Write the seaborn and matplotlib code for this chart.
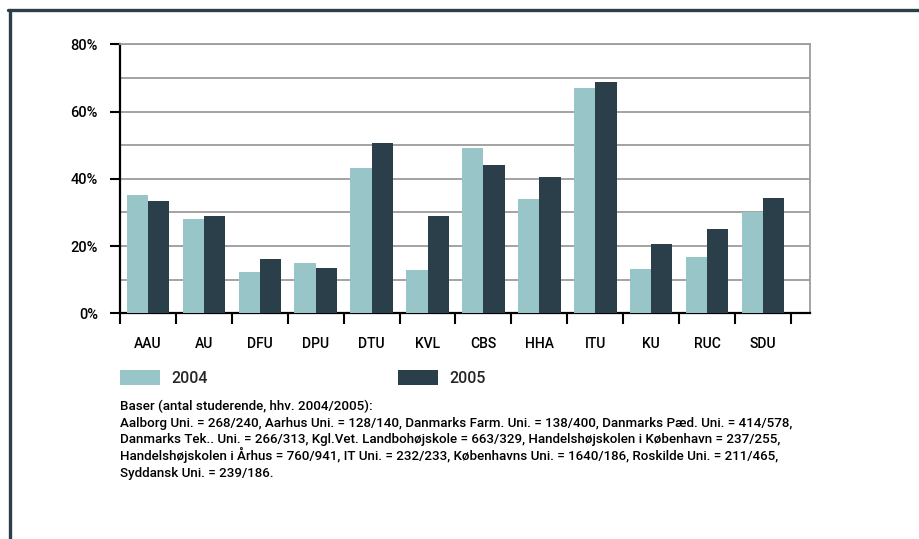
import pandas as pd
import matplotlib.pyplot as plt
import seaborn as sns
from matplotlib.lines import Line2D
from matplotlib.ticker import MultipleLocator, FixedLocator, FuncFormatter

# Data (share in %)
universities = ["AAU", "AU", "DFU", "DPU", "DTU", "KVL", "CBS", "HHA", "ITU", "KU", "RUC", "SDU"]
share_2004 = [35.2, 28.0, 12.3, 15.0, 43.2, 12.9, 49.2, 34.0, 67.0, 13.2, 16.8, 30.2]
share_2005 = [33.4, 28.9, 16.1, 13.5, 50.6, 28.9, 44.1, 40.5, 68.8, 20.6, 25.1, 34.3]
years = ["2004", "2005"]
colors = ["#97c5c8", "#2b3f4b"]

footnote_lines = [
    "Baser (antal studerende, hhv. 2004/2005):",
    "Aalborg Uni. = 268/240, Aarhus Uni. = 128/140, Danmarks Farm. Uni. = 138/400, Danmarks Pæd. Uni. = 414/578,",
    "Danmarks Tek.. Uni. = 266/313, Kgl.Vet. Landbohøjskole = 663/329, Handelshøjskolen i København = 237/255,",
    "Handelshøjskolen i Århus = 760/941, IT Uni. = 232/233, Københavns Uni. = 1640/186, Roskilde Uni. = 211/465,",
    "Syddansk Uni. = 239/186.",
]

df = pd.DataFrame({
    "uni": universities * 2,
    "year": [years[0]] * len(universities) + [years[1]] * len(universities),
    "share": share_2004 + share_2005,
})

sns.set_style("white")
plt.rcParams["font.family"] = ["Roboto", "DejaVu Sans"]
plt.rcParams["font.weight"] = "medium"

fig = plt.figure(figsize=(9.19, 5.39), dpi=100)
ax = fig.add_axes([120 / 919, 1 - 313.3 / 539, 690 / 919, 269 / 539])

sns.barplot(data=df, x="uni", y="share", hue="year", order=universities,
            hue_order=years, palette=colors, width=0.76, saturation=1,
            edgecolor="none", linewidth=0, ax=ax, zorder=3)

ax.set_ylim(0, 80)
ax.set_xlim(-0.5, 11.84)
ax.set_xlabel("")
ax.set_ylabel("")

# horizontal grid every 10 %
ax.yaxis.set_major_locator(MultipleLocator(20))
ax.yaxis.set_minor_locator(MultipleLocator(10))
ax.yaxis.set_major_formatter(FuncFormatter(lambda v, p: f"{v:.0f}%"))
ax.grid(axis="y", which="both", color="#9c9c9c", linewidth=1.3, zorder=0)
ax.set_axisbelow(True)

# x ticks at category boundaries, labels at centres
ax.xaxis.set_major_locator(FixedLocator([i - 0.5 for i in range(len(universities) + 1)]))
ax.xaxis.set_major_formatter(FuncFormatter(lambda v, p: ""))
ax.xaxis.set_minor_locator(FixedLocator(range(len(universities))))
ax.set_xticklabels(universities, minor=True)
ax.tick_params(axis="x", which="major", direction="out", length=8, width=1.5, color="black", bottom=True)
ax.tick_params(axis="x", which="minor", length=0, pad=17, labelsize=10, labelcolor="black")
ax.tick_params(axis="y", which="major", direction="out", length=7, width=1.5, color="black", left=True,
               labelsize=10.5, labelcolor="black", pad=9)
ax.tick_params(axis="y", which="minor", length=0)

for side in ["left", "bottom"]:
    ax.spines[side].set_color("black")
    ax.spines[side].set_linewidth(1.6)
for side in ["top", "right"]:
    ax.spines[side].set_visible(True)
    ax.spines[side].set_color("#9c9c9c")
    ax.spines[side].set_linewidth(1.3)

# legend below the axis
handles, labels = ax.get_legend_handles_labels()
ax.legend(handles, labels, loc="upper left", bbox_to_anchor=(0, -0.21), ncol=2,
          frameon=False, fontsize=11.5, handlelength=2.5, handleheight=1.1,
          handletextpad=0.7, columnspacing=11.95, borderaxespad=0, borderpad=0)

# footnote, one line at a time so the spacing stays even
for i, line in enumerate(footnote_lines):
    fig.text(120 / 919, 1 - (410 + 16.7 * i) / 539, line, ha="left", va="baseline",
             fontsize=9.6, color="black")

# frame lines (left and top)
border = "#2b3f4b"
fig.add_artist(Line2D([9.5 / 919, 9.5 / 919], [0, 1 - 9.5 / 539], color=border, linewidth=2.4,
                      transform=fig.transFigure))
fig.add_artist(Line2D([8.3 / 919, 1], [1 - 9.5 / 539, 1 - 9.5 / 539], color=border, linewidth=2.4,
                      transform=fig.transFigure))

fig.savefig("out.png", dpi=100)
